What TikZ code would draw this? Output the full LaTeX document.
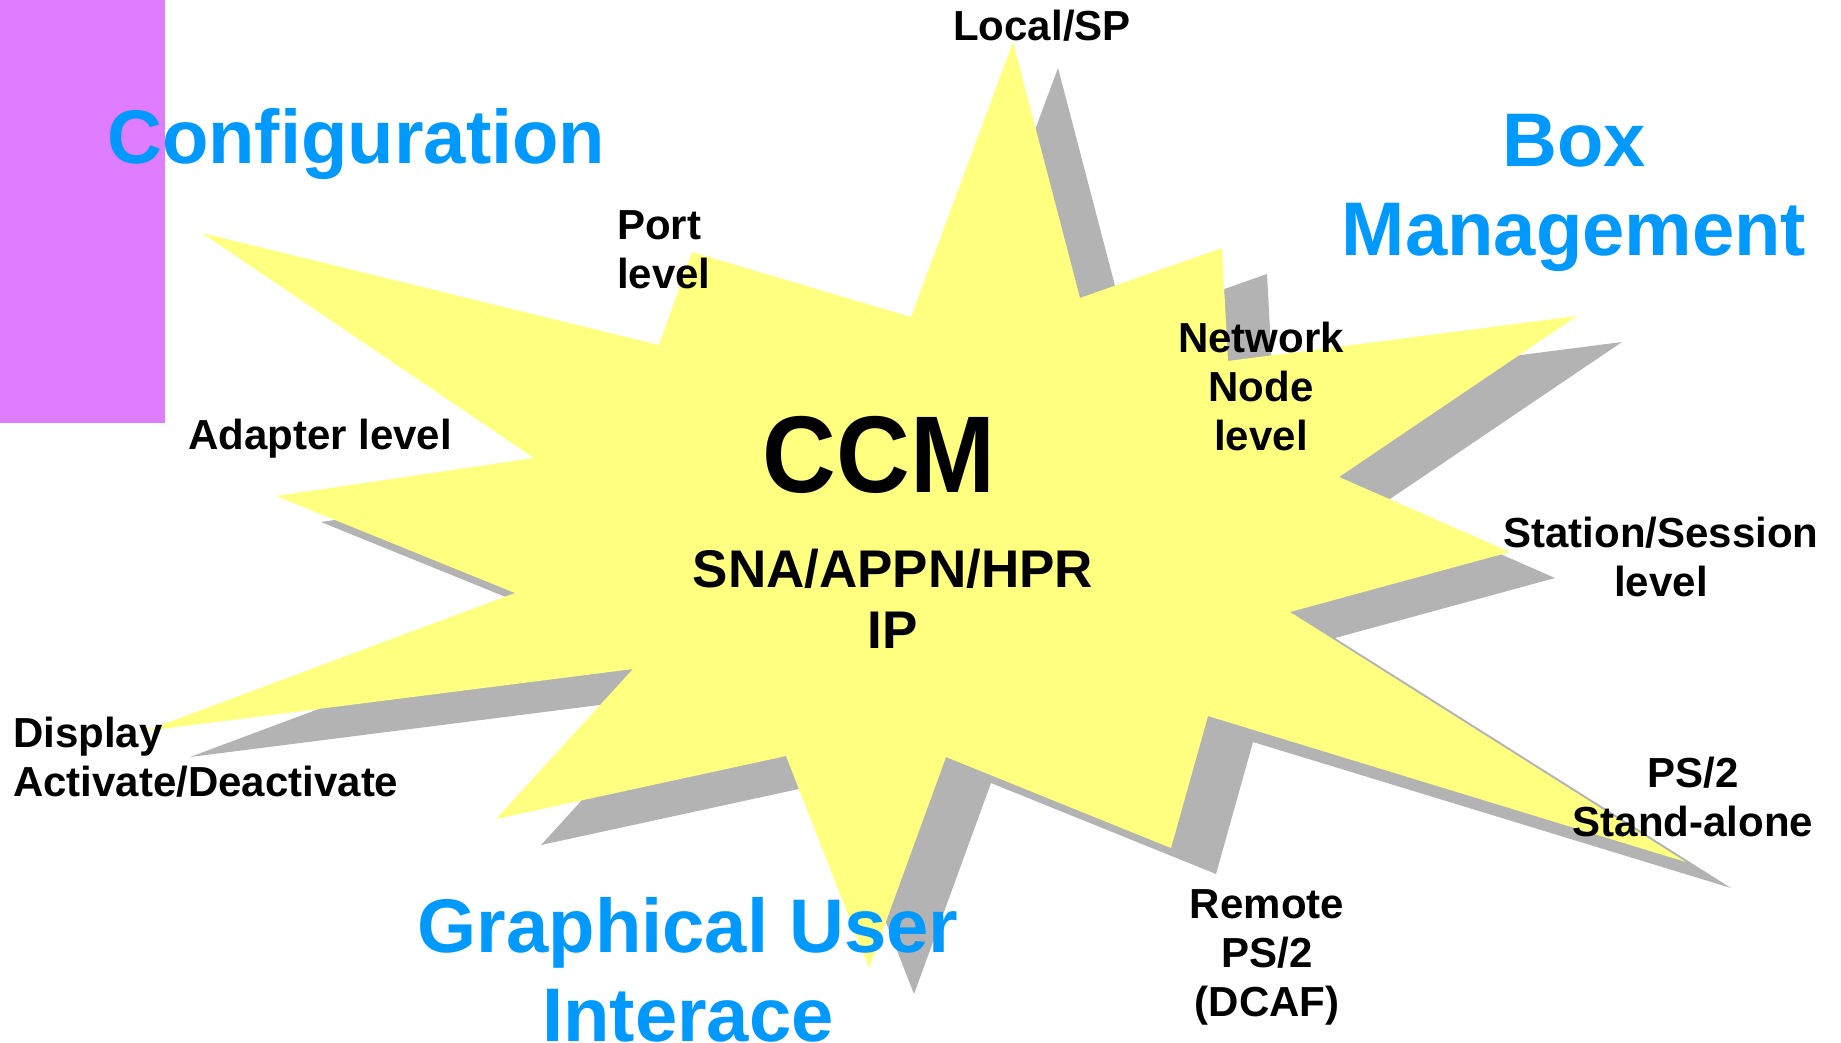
\documentclass[tikz,border=0pt]{standalone}
\usepackage{graphicx}
\usepackage{fontspec}
\setmainfont{Liberation Sans}
\definecolor{staryellow}{HTML}{FFFF80}
\definecolor{shadowgray}{HTML}{B3B3B3}
\definecolor{barmagenta}{HTML}{E07CFF}
\definecolor{titleblue}{HTML}{0099FF}
\begin{document}
\begin{tikzpicture}[x=1pt,y=-1pt,
  lbl/.style={inner sep=0pt,anchor=base,font=\fontsize{42}{49}\selectfont\bfseries},
  ttl/.style={inner sep=0pt,anchor=base,text=titleblue,font=\fontsize{76}{89}\selectfont\bfseries}]
\useasboundingbox (0,0) rectangle (1841,1043);
\fill[white] (0,0) rectangle (1841,1043);
\fill[barmagenta] (0,0) rectangle (165,423);
\def\starpath{(1013,42) -- (1080,298) -- (1222,248) -- (1228,361) -- (1577,316) -- (1339,477) -- (1510,552) -- (1290,612) -- (1686,862) -- (1208,716) -- (1171,848) -- (946,757) -- (869,968) -- (786,756) -- (496,819) -- (633,669) -- (145,731) -- (515,593) -- (276,496) -- (534,458) -- (202,233) -- (659,345) -- (692,252) -- (911,317) -- cycle}
\fill[shadowgray,shift={(45,26)}] \starpath;
\fill[staryellow] \starpath;
% titles
\node[ttl,anchor=base west] (config) at (107,164) {Configuration};
\node[ttl] (box) at (1574,167) {\begin{tabular}[t]{@{}c@{}}Box\\Management\end{tabular}};
\node[ttl] (gui) at (688,952) {\begin{tabular}[t]{@{}c@{}}Graphical User\\Interace\end{tabular}};
% centre
\node[inner sep=0pt,anchor=base,font=\fontsize{102}{120}\selectfont\bfseries] (ccm) at (879,492) {\scalebox{1}[1.07]{CCM}};
\node[inner sep=0pt,anchor=base,font=\fontsize{53}{61}\selectfont\bfseries] (proto) at (893,587) {\begin{tabular}[t]{@{}c@{}}SNA/APPN/HPR\\IP\end{tabular}};
% labels
\node[lbl] (local) at (1042,41) {Local/SP};
\node[lbl,anchor=base west] (port) at (617,239) {\begin{tabular}[t]{@{}l@{}}Port\\level\end{tabular}};
\node[lbl,anchor=base west] (adapter) at (188,449) {Adapter level};
\node[lbl] (netnode) at (1261,352) {\begin{tabular}[t]{@{}c@{}}Network\\Node\\level\end{tabular}};
\node[lbl] (station) at (1661,547) {\begin{tabular}[t]{@{}c@{}}Station/Session\\level\end{tabular}};
\node[lbl] (ps2) at (1693,787) {\begin{tabular}[t]{@{}c@{}}PS/2\\Stand-alone\end{tabular}};
\node[lbl] (remote) at (1267,918) {\begin{tabular}[t]{@{}c@{}}Remote\\PS/2\\(DCAF)\end{tabular}};
\node[lbl,anchor=base west] (display) at (13,747) {\begin{tabular}[t]{@{}l@{}}Display\\Activate/Deactivate\end{tabular}};
\end{tikzpicture}
\end{document}
